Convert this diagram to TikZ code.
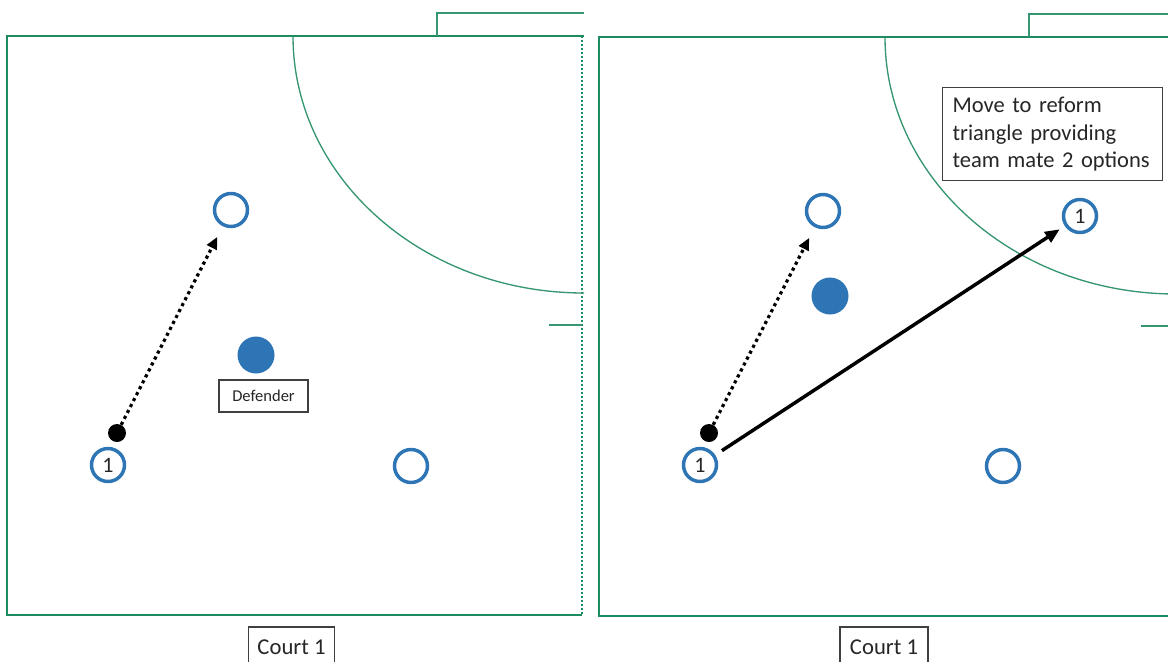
\documentclass[tikz,border=0pt]{standalone}
\usepackage{fontspec}
\setmainfont{Carlito}
\usepackage{tikz}
\usetikzlibrary{arrows.meta,positioning}
\definecolor{courtgreen}{HTML}{1E8A5F}
\definecolor{playerblue}{HTML}{2E75B6}
\definecolor{boxgray}{HTML}{404040}

\begin{document}
\begin{tikzpicture}[
    x=0.75pt, y=-0.75pt,
    every node/.style={font=\fontsize{17}{20}\selectfont, text=black!85},
    courtline/.style={draw=courtgreen, line width=1.6pt},
    thinline/.style={draw=courtgreen!90, line width=1pt},
    attacker/.style={circle, draw=playerblue, line width=2.6pt, fill=white,
                     minimum size=24.75pt, inner sep=0pt,
                     font=\fontsize{16.5}{16.5}\selectfont},
    defender/.style={circle, fill=playerblue, minimum size=27.75pt, inner sep=0pt},
    ball/.style={circle, fill=black, minimum size=13.5pt, inner sep=0pt},
    tag/.style={draw=boxgray, line width=0.9pt, fill=white, inner sep=0pt},
    pass/.style={line width=2.4pt, dash pattern=on 2.4pt off 2.6pt,
                 -{Triangle[length=9pt, width=8pt]}, shorten >=9pt},
    run/.style={line width=2.6pt, -{Triangle[length=11pt, width=9pt]},
                shorten <=6pt, shorten >=4.5pt},
]

\useasboundingbox (0,0) rectangle (1168,661);
\clip (0,0) rectangle (1168,661);

% Court markings, both panels
\foreach \dx/\dy in {0/0, 592/1}{
  \begin{scope}[shift={(\dx,\dy)}]
    \draw[courtline] (582,615) -- (7,615) -- (7,36) -- (584,36);
    \draw[courtline, line width=1.5pt, dash pattern=on 1.5pt off 1.5pt]
      (582,36) -- (582,615);
    \draw[thinline, line width=1.2pt] (437,36) -- (437,13) -- (584,13);
    \draw[thinline] (293,36) arc[start angle=180, end angle=90,
                                 x radius=291, y radius=257];
    \draw[thinline] (549,325) -- (582,325);
  \end{scope}
}

% Left panel
\node[attacker] (mateL) at (231,210) {};
\node[attacker] (wideL) at (411,466) {};
\node[attacker] (oneL) at (108,465) {1};
\node[ball] (ballL) at (117,433) {};
\node[defender] (defL) at (256,355) {};
\node[tag, minimum width=66.75pt, minimum height=24pt,
      font=\fontsize{12.4}{14}\selectfont] (defTag) at (263.5,396) {Defender};
\draw[pass] (ballL) -- (mateL);

% Right panel
\node[attacker] (mateR) at (823,211) {};
\node[attacker] (wideR) at (1003,466) {};
\node[attacker] (oneR) at (700,465) {1};
\node[ball] (ballR) at (709,433) {};
\node[defender] (defR) at (830,296) {};
\node[attacker] (newR) at (1080,216) {1};
\draw[pass] (ballR) -- (mateR);
\draw[run] (oneR) -- (newR);

\node[tag, anchor=north west, text width=150pt, align=left,
      inner xsep=7.5pt, minimum height=69.75pt,
      font=\fontsize{16.9}{20.3}\selectfont] (note) at (942,87)
  {Move to reform\\triangle providing\\team mate 2 options};

% Court labels
\node[tag, minimum width=65pt, minimum height=30pt] (courtL) at (291.5,647) {Court 1};
\node[tag, minimum width=66pt, minimum height=30pt] (courtR) at (884,647) {Court 1};

\end{tikzpicture}
\end{document}
